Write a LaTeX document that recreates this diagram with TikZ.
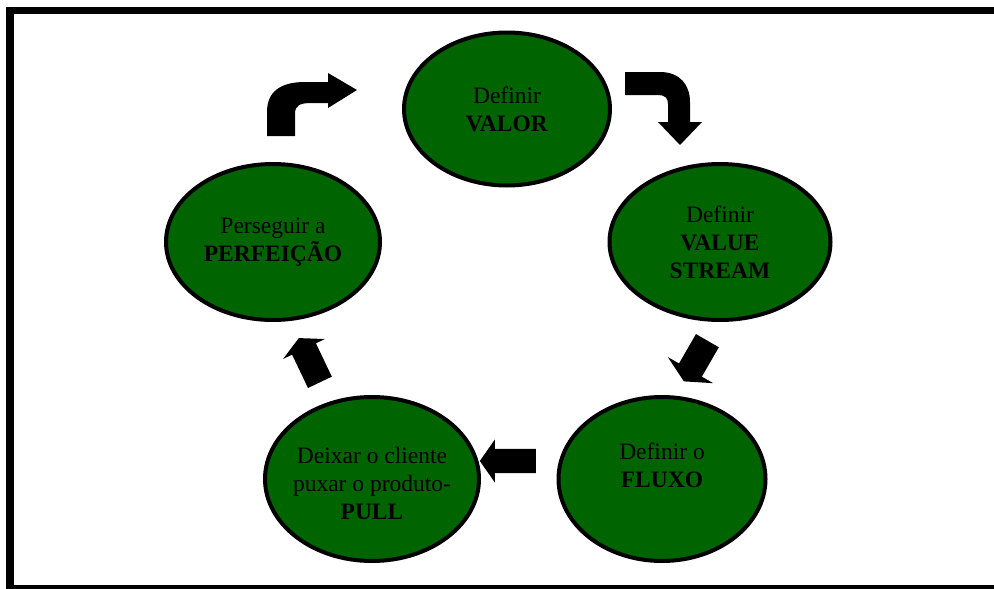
\documentclass[tikz,border=0pt]{standalone}
\usepackage{fontspec}
\setmainfont{Liberation Serif}
\usetikzlibrary{shapes.geometric, shapes.arrows}
\definecolor{stagegreen}{RGB}{0,100,0}

\begin{document}
\begin{tikzpicture}[
      x=1pt, y=-1pt,
      stage/.style={ellipse, draw, line width=4pt, fill=stagegreen, inner sep=0pt},
      stagetext/.style={align=center, inner sep=0pt, font=\fontsize{23.5}{28}\selectfont},
      flow/.style={single arrow, fill=black, anchor=tail, inner xsep=0pt, minimum width=0pt, single arrow head indent=0pt},
      bendarrow/.style={fill=black}
    ]

    \clip (0,0) rectangle (994,589);
    \draw[line width=7.5pt] (10,10.5) rectangle (1010,589);

    \node[stage, minimum width=206pt, minimum height=153pt] (valor) at (507,109) {};
    \node[stage, minimum width=221pt, minimum height=156pt] (stream) at (720,242) {};
    \node[stage, minimum width=207pt, minimum height=164pt] (fluxo) at (662,479) {};
    \node[stage, minimum width=214pt, minimum height=164pt] (pull) at (372,479) {};
    \node[stage, minimum width=214pt, minimum height=156pt] (perfeicao) at (273,242) {};

    \node[stagetext] (valor-t) at (valor) {Definir\\\textbf{VALOR}};
    \node[stagetext] (stream-t) at (stream) {Definir\\\textbf{VALUE}\\\textbf{STREAM}};
    \node[stagetext] (fluxo-t) at (fluxo) {Definir o\\\textbf{FLUXO}\\\mbox{}};
    \node[stagetext] (pull-t) at ([yshift=-4pt]pull) {Deixar o cliente\\puxar o produto-\\\textbf{PULL}};
    \node[stagetext] (perfeicao-t) at (perfeicao) {Perseguir a\\\textbf{PERFEIÇÃO}};

    % straight block arrows
    \node[flow, rotate=240, inner ysep=13pt, single arrow head extend=13pt, single arrow tip angle=127, minimum height=47pt] (a-stream) at (707.5,340.5) {};
    \node[flow, rotate=180, inner ysep=12pt, single arrow head extend=9.5pt, single arrow tip angle=110, minimum height=56pt] (a-fluxo) at (536,461) {};
    \node[flow, rotate=115.5, inner ysep=13pt, single arrow head extend=10pt, single arrow tip angle=125, minimum height=49pt] (a-pull) at (320,382.5) {};

    % bent block arrows
    \fill[bendarrow] (267,136) -- (267,112) .. controls (267,92) and (280,82) .. (305,82) -- (328,82)
      -- (328,73) -- (357,90) -- (328,108) -- (328,103) -- (312,103)
      .. controls (300,103) and (295,105) .. (295,114) -- (295,136) -- cycle;
    \fill[bendarrow] (625,72) -- (660,72) .. controls (680,72) and (690,85) .. (690,102) -- (690,122)
      -- (702,122) -- (680,145) -- (658,122) -- (668,122) -- (668,104)
      .. controls (668,98) and (665,95) .. (658,95) -- (625,95) -- cycle;

  \end{tikzpicture}
\end{document}
